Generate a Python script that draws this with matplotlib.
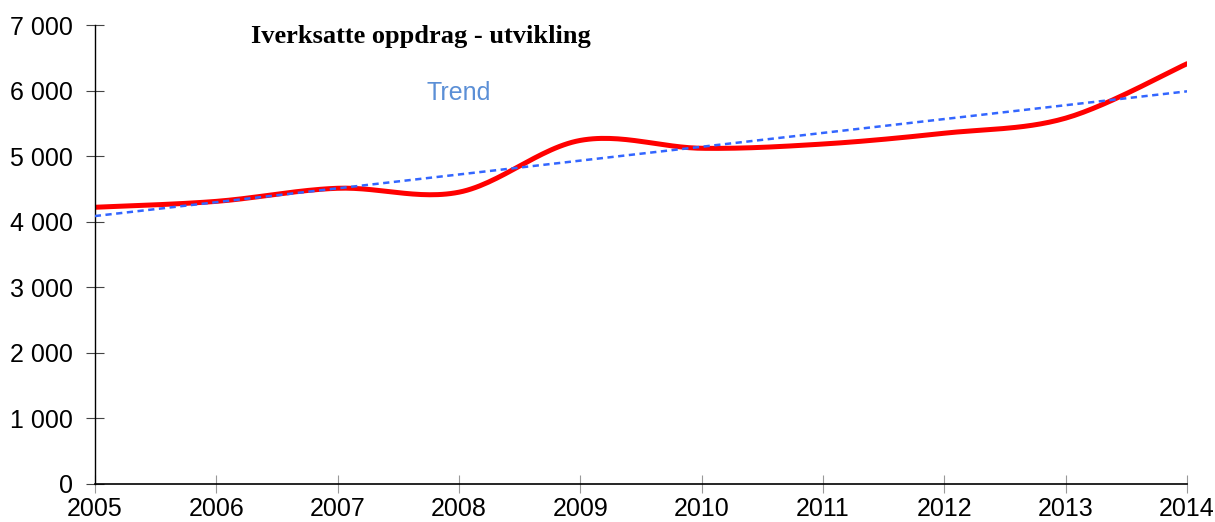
import numpy as np
import matplotlib
matplotlib.use("Agg")
import matplotlib.pyplot as plt
from matplotlib.ticker import FuncFormatter

# ---------------- data ----------------
years  = [2005, 2006, 2007, 2008, 2009, 2010, 2011, 2012, 2013, 2014]
values = [4220, 4310, 4510, 4450, 5240, 5120, 5185, 5350, 5580, 6410]
title_text = "Iverksatte oppdrag - utvikling"
trend_label = "Trend"


def smooth_line(x, y, n=30):
    # Excel-like smoothed line: cubic Bezier with Catmull-Rom control points
    x = np.asarray(x, float)
    y = np.asarray(y, float)
    px = np.concatenate(([x[0]], x, [x[-1]]))
    py = np.concatenate(([y[0]], y, [y[-1]]))
    xs, ys = [], []
    t = np.linspace(0, 1, n)
    for i in range(1, len(px) - 2):
        p0 = np.array([px[i], py[i]])
        p3 = np.array([px[i + 1], py[i + 1]])
        c1 = p0 + (np.array([px[i + 1], py[i + 1]]) - np.array([px[i - 1], py[i - 1]])) / 6
        c2 = p3 - (np.array([px[i + 2], py[i + 2]]) - np.array([px[i], py[i]])) / 6
        b = ((1 - t) ** 3)[:, None] * p0 + (3 * (1 - t) ** 2 * t)[:, None] * c1 \
            + (3 * (1 - t) * t ** 2)[:, None] * c2 + (t ** 3)[:, None] * p3
        xs.extend(b[:, 0]); ys.extend(b[:, 1])
    return np.array(xs), np.array(ys)


sx, sy = smooth_line(years, values)
coef = np.polyfit(years, values, 1)
trend = np.polyval(coef, years)

fig = plt.figure(figsize=(12.15, 5.22), dpi=100)
ax = fig.add_axes([0.078, 0.073, 0.899, 0.879])

ax.plot(years, trend, color="#3366ff", lw=1.8, ls=(0, (2.5, 1.8)), zorder=3)
ax.plot(sx, sy, color="#ff0000", lw=3.6, solid_capstyle="round", zorder=2)

ax.set_xlim(2005, 2014)
ax.set_ylim(0, 7000)
ax.set_xticks(years)
ax.set_yticks(range(0, 7001, 1000))
ax.yaxis.set_major_formatter(FuncFormatter(lambda v, p: f"{int(v):,}".replace(",", " ")))

for s in ["top", "right"]:
    ax.spines[s].set_visible(False)
ax.spines["left"].set_linewidth(1.0)
ax.spines["bottom"].set_linewidth(1.2)
ax.tick_params(axis="x", direction="inout", length=13, width=0.8, color="#999999",
               labelsize=18, pad=3)
ax.tick_params(axis="y", direction="inout", length=13, width=0.8, color="#444444",
               labelsize=18, pad=9)
for lab in ax.get_xticklabels() + ax.get_yticklabels():
    lab.set_fontfamily("Liberation Sans")
ax.yaxis.get_major_ticks()[-1].tick1line.set_color("#bbbbbb")

ax.text(2007.69, 6830, title_text, fontsize=19, fontweight="bold",
        fontfamily="Liberation Serif", ha="center", va="center")
ax.text(2008.0, 5960, trend_label, fontsize=18, color="#5b8fd6",
        fontfamily="Liberation Sans", ha="center", va="center")

fig.savefig("out.png", dpi=100)
